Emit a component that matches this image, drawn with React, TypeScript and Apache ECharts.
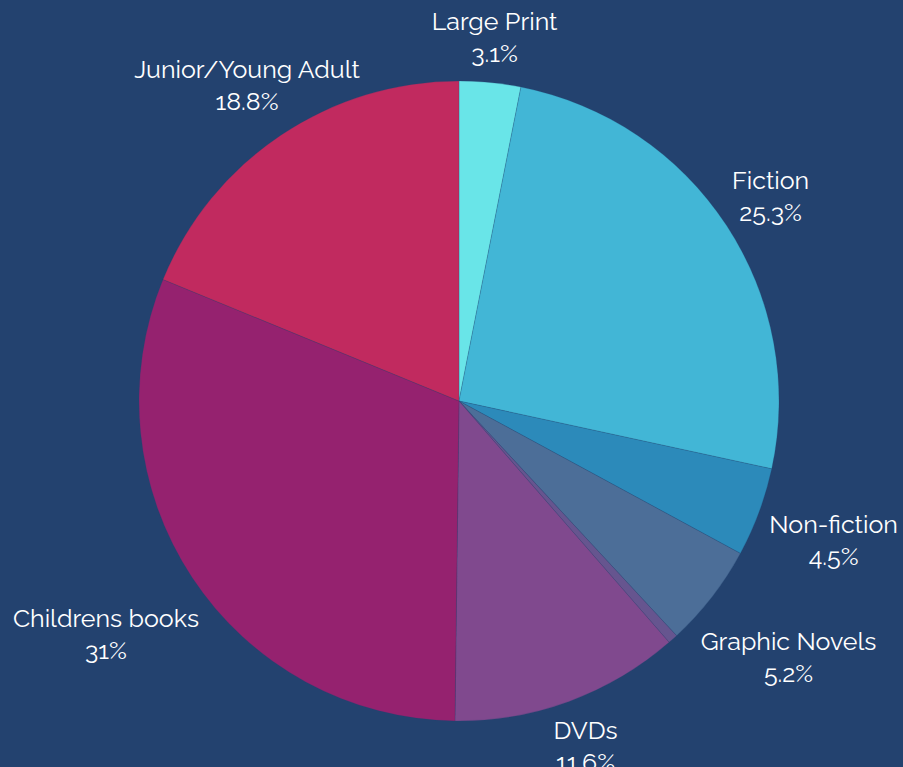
import React, { useEffect, useRef } from "react";
import * as echarts from "echarts";

const categories = [
  "Large Print",
  "Fiction",
  "Non-fiction",
  "Graphic Novels",
  "Other",
  "DVDs",
  "Childrens books",
  "Junior/Young Adult",
];
const values = [3.1, 25.3, 4.5, 5.2, 0.5, 11.6, 31, 18.8];
const colors = [
  "#69e5e8",
  "#42b6d6",
  "#2c8aba",
  "#4c6e98",
  "#66558f",
  "#80498e",
  "#95226f",
  "#c12a5f",
];
const hiddenLabels = ["Other"];

const CX = 459;
const CY = 401;
const R = 320;
const GAP = 8;
const gapOverride: Record<string, number> = {
  "Junior/Young Adult": -29,
  Fiction: 3,
  DVDs: 6,
};

export default function App() {
  const ref = useRef<HTMLDivElement>(null);
  useEffect(() => {
    if (!ref.current) return;
    const chart = echarts.init(ref.current, null, { renderer: "svg" });
    const total = values.reduce((a, b) => a + b, 0);
    const mids: number[] = [];
    let acc = 0;
    values.forEach((v) => {
      mids.push(((acc + v / 2) / total) * Math.PI * 2);
      acc += v;
    });
    chart.setOption({
      animation: false,
      backgroundColor: "#23426f",
      series: [
        {
          type: "pie",
          center: [CX, CY],
          radius: [0, R],
          startAngle: 90,
          clockwise: true,
          data: categories.map((name, i) => ({
            name,
            value: values[i],
            itemStyle: { color: colors[i] },
            label: { show: !hiddenLabels.includes(name) },
          })),
          itemStyle: { borderWidth: 0.6, borderColor: "rgba(35,66,111,0.35)" },
          label: {
            position: "outside",
            color: "#ffffff",
            fontFamily: "Raleway, Lato, sans-serif",
            fontSize: 25,
            lineHeight: 32,
            align: "center",
            overflow: "none",
            alignTo: "none",
            formatter: (p: any) => `${p.name}\n${p.value}%`,
          },
          labelLine: { show: false },
          emphasis: { disabled: true },
          labelLayout: (p: any) => {
            const th = mids[p.dataIndex];
            const s = Math.sin(th);
            const c = Math.cos(th);
            const w = p.labelRect.width;
            const h = p.labelRect.height;
            const g = gapOverride[categories[p.dataIndex]] ?? GAP;
            const d = R + g + Math.abs(s) * w / 2 + Math.abs(c) * h / 2;
            return {
              x: CX + s * d,
              y: CY - c * d,
              align: "center",
              verticalAlign: "middle",
            };
          },
        },
      ],
    });
    return () => chart.dispose();
  }, []);
  return (
    <div
      ref={ref}
      style={{ position: "fixed", left: 0, top: 0, width: 903, height: 767 }}
    />
  );
}
